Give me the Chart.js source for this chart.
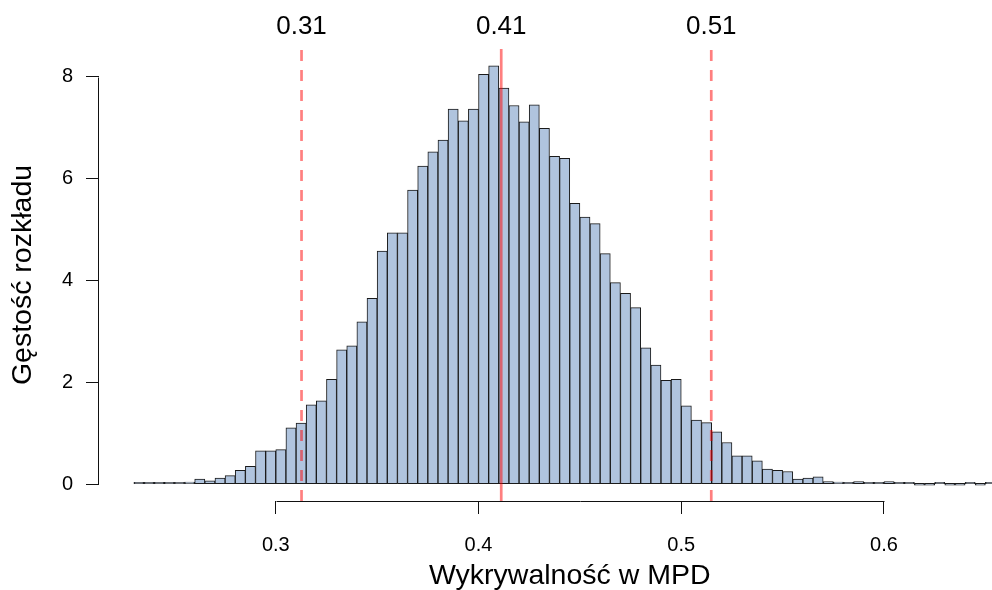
<!DOCTYPE html>
<html lang="pl">
<head>
<meta charset="utf-8">
<title>Wykrywalność w MPD</title>
<script src="https://cdn.jsdelivr.net/npm/chart.js@4.4.1/dist/chart.umd.min.js"></script>
<style>
  html, body { margin: 0; padding: 0; background: #ffffff; overflow: hidden; }
  #wrap { width: 992px; height: 590px; overflow: hidden; position: relative; background: #ffffff; }
  #c { display: block; }
</style>
</head>
<body>
<div id="wrap"><canvas id="c" width="1100" height="590"></canvas></div>
<script>
// Histogram bins: lower edge of each bin (bin width 0.005)
const binLower = [
  0.230, 0.235, 0.240, 0.245, 0.250, 0.255, 0.260, 0.265, 0.270, 0.275,
  0.280, 0.285, 0.290, 0.295, 0.300, 0.305, 0.310, 0.315, 0.320, 0.325,
  0.330, 0.335, 0.340, 0.345, 0.350, 0.355, 0.360, 0.365, 0.370, 0.375,
  0.380, 0.385, 0.390, 0.395, 0.400, 0.405, 0.410, 0.415, 0.420, 0.425,
  0.430, 0.435, 0.440, 0.445, 0.450, 0.455, 0.460, 0.465, 0.470, 0.475,
  0.480, 0.485, 0.490, 0.495, 0.500, 0.505, 0.510, 0.515, 0.520, 0.525,
  0.530, 0.535, 0.540, 0.545, 0.550, 0.555, 0.560, 0.565, 0.570, 0.575,
  0.580, 0.585, 0.590, 0.595, 0.600, 0.605, 0.610, 0.615, 0.620, 0.625,
  0.630, 0.635, 0.640, 0.645, 0.650
];
const binWidth = 0.005;

// Density of each bin
const density = [
  0.02, 0.02, 0.02, 0.02, 0.02, 0.045, 0.10, 0.065, 0.12, 0.17,
  0.275, 0.35, 0.655, 0.655, 0.68, 1.11, 1.20, 1.56, 1.64, 2.06,
  2.64, 2.72, 3.19, 3.65, 4.58, 4.94, 4.94, 5.78, 6.25, 6.53,
  6.76, 7.37, 7.14, 7.37, 8.05, 8.22, 7.78, 7.44, 7.12, 7.45,
  6.99, 6.44, 6.40, 5.52, 5.25, 5.12, 4.53, 3.96, 3.75, 3.47,
  2.68, 2.34, 2.04, 2.06, 1.54, 1.26, 1.21, 1.03, 0.82, 0.56,
  0.56, 0.46, 0.30, 0.275, 0.25, 0.10, 0.12, 0.145, 0.05, 0.045,
  0.015, 0.05, 0.015, 0.015, 0.05, 0.015, 0.015, 0, 0, 0.015,
  0, 0, 0.015, 0, 0.015
];

// Interval bounds and central value
const refLineValues = [0.3127, 0.4112, 0.5148];

// Axis ticks
const xTickValues = [0.3, 0.4, 0.5, 0.6];
const xTickLabels = ['0.3', '0.4', '0.5', '0.6'];
const yTickValues = [0, 2, 4, 6, 8];
const yTickLabels = ['0', '2', '4', '6', '8'];

// Plot ranges (data range plus 4% on each side)
const X_MIN = 0.2128, X_MAX = 0.6772;
const Y_MIN = -0.329, Y_MAX = 8.549;

const FONT = '"Liberation Sans", Arial, Helvetica, sans-serif';
const INK = '#111111';

const histPoints = binLower.map((lo, i) => ({ x: lo + binWidth / 2, y: density[i] }));

const refDatasets = refLineValues.map((v, i) => ({
  type: 'line',
  data: [{ x: v, y: Y_MIN }, { x: v, y: Y_MAX }],
  borderColor: 'rgba(255, 0, 0, 0.5)',
  borderWidth: 2.7,
  borderDash: i === 1 ? [] : [11, 9],
  borderCapStyle: 'butt',
  pointRadius: 0,
  fill: false,
  order: 0
}));

// Axis lines that only span the tick range, plus labels above the reference lines
const axisPlugin = {
  id: 'rangeAxes',
  afterDraw(chart) {
    const { ctx, chartArea, scales } = chart;
    const xs = scales.x, ys = scales.y;
    ctx.save();
    ctx.strokeStyle = INK;
    ctx.lineWidth = 1;
    ctx.beginPath();
    const yb = Math.round(chartArea.bottom) + 0.5;
    ctx.moveTo(Math.round(xs.getPixelForValue(xTickValues[0])) + 0.5, yb);
    ctx.lineTo(Math.round(xs.getPixelForValue(xTickValues[xTickValues.length - 1])) + 0.5, yb);
    const xl = Math.round(chartArea.left) - 0.5;
    ctx.moveTo(xl, Math.round(ys.getPixelForValue(yTickValues[0])) + 0.5);
    ctx.lineTo(xl, Math.round(ys.getPixelForValue(yTickValues[yTickValues.length - 1])) + 0.5);
    ctx.stroke();

    ctx.fillStyle = '#000000';
    ctx.font = '26px ' + FONT;
    ctx.textAlign = 'center';
    ctx.textBaseline = 'middle';
    refLineValues.forEach(v => {
      ctx.fillText(v.toFixed(2), xs.getPixelForValue(v), 27);
    });
    ctx.restore();
  }
};

new Chart(document.getElementById('c'), {
  data: {
    datasets: [
      {
        type: 'bar',
        data: histPoints,
        backgroundColor: '#B0C4DE',
        borderColor: '#1a1a1a',
        borderWidth: 1,
        borderSkipped: false,
        barPercentage: 1,
        categoryPercentage: 1,
        minBarLength: 2,
        order: 1
      },
      ...refDatasets
    ]
  },
  options: {
    responsive: false,
    animation: false,
    devicePixelRatio: 1,
    layout: { padding: { top: 49, right: 59.5, bottom: 0, left: 0 } },
    plugins: { legend: { display: false }, tooltip: { enabled: false } },
    scales: {
      x: {
        type: 'linear',
        position: 'bottom',
        offset: false,
        min: X_MIN,
        max: X_MAX,
        afterBuildTicks: s => { s.ticks = xTickValues.map(v => ({ value: v })); },
        afterFit: s => { s.height = 89; },
        border: { display: false },
        grid: { display: true, offset: false, drawOnChartArea: false, drawTicks: true, tickLength: 13, tickColor: INK, tickWidth: 1 },
        ticks: {
          autoSkip: false,
          maxRotation: 0,
          padding: 19,
          color: '#000000',
          font: { family: FONT, size: 20 },
          callback: (v, i) => xTickLabels[i]
        },
        title: {
          display: true,
          text: 'Wykrywalność w MPD',
          color: '#000000',
          font: { family: FONT, size: 28.5, lineHeight: 1 },
          padding: { top: 0, bottom: 0 }
        }
      },
      y: {
        type: 'linear',
        position: 'left',
        min: Y_MIN,
        max: Y_MAX,
        afterBuildTicks: s => { s.ticks = yTickValues.map(v => ({ value: v })); },
        afterFit: s => { s.width = 99; },
        border: { display: false },
        grid: { display: true, drawOnChartArea: false, drawTicks: true, tickLength: 13, tickColor: INK, tickWidth: 1 },
        ticks: {
          autoSkip: false,
          padding: 13,
          color: '#000000',
          font: { family: FONT, size: 20 },
          callback: (v, i) => yTickLabels[i]
        },
        title: {
          display: true,
          text: 'Gęstość rozkładu',
          color: '#000000',
          font: { family: FONT, size: 28.5, lineHeight: 1 },
          padding: { top: 9, bottom: 0 }
        }
      }
    }
  },
  plugins: [axisPlugin]
});
</script>
</body>
</html>
